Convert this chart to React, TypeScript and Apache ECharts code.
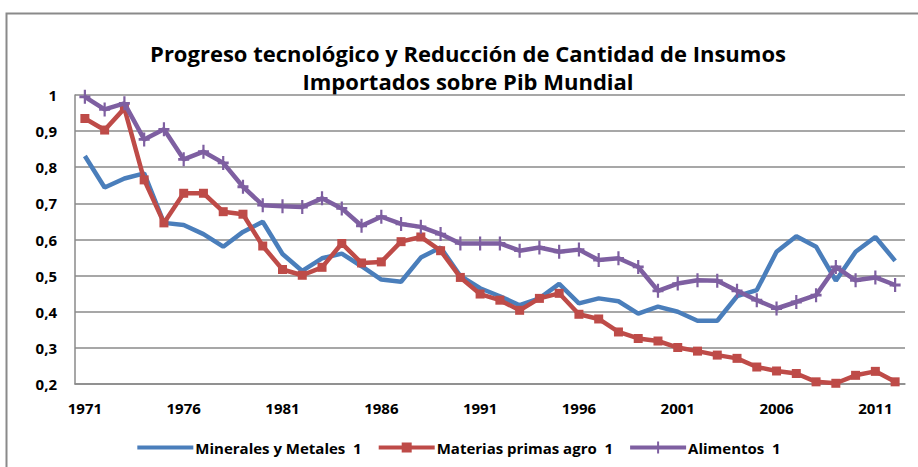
import React, { useEffect, useRef } from "react";
import * as echarts from "echarts";

const years = [
  "1971", "1972", "1973", "1974", "1975", "1976", "1977", "1978", "1979", "1980",
  "1981", "1982", "1983", "1984", "1985", "1986", "1987", "1988", "1989", "1990",
  "1991", "1992", "1993", "1994", "1995", "1996", "1997", "1998", "1999", "2000",
  "2001", "2002", "2003", "2004", "2005", "2006", "2007", "2008", "2009", "2010",
  "2011", "2012",
];

const minerales = [
  0.831, 0.744, 0.769, 0.783, 0.646, 0.64, 0.615, 0.58, 0.621, 0.649,
  0.56, 0.513, 0.548, 0.561, 0.526, 0.489, 0.483, 0.55, 0.578, 0.499,
  0.465, 0.443, 0.418, 0.437, 0.477, 0.423, 0.437, 0.429, 0.395, 0.414,
  0.4, 0.375, 0.375, 0.443, 0.46, 0.566, 0.609, 0.58, 0.486, 0.566,
  0.607, 0.541,
];

const materias = [
  0.935, 0.903, 0.963, 0.765, 0.646, 0.728, 0.728, 0.677, 0.67, 0.582,
  0.517, 0.501, 0.523, 0.589, 0.535, 0.538, 0.594, 0.607, 0.569, 0.495,
  0.449, 0.432, 0.404, 0.437, 0.451, 0.393, 0.38, 0.344, 0.326, 0.319,
  0.301, 0.291, 0.28, 0.271, 0.247, 0.236, 0.229, 0.206, 0.202, 0.224,
  0.235, 0.206,
];

const alimentos = [
  0.995, 0.96, 0.977, 0.877, 0.905, 0.822, 0.843, 0.812, 0.746, 0.695,
  0.692, 0.69, 0.714, 0.686, 0.638, 0.663, 0.643, 0.635, 0.615, 0.589,
  0.589, 0.589, 0.569, 0.578, 0.566, 0.572, 0.543, 0.548, 0.524, 0.458,
  0.478, 0.487, 0.486, 0.458, 0.432, 0.409, 0.427, 0.446, 0.524, 0.487,
  0.495, 0.474,
];

const seriesNames = ["Minerales y Metales  1", "Materias primas agro  1", "Alimentos  1"];
const colors = ["#4A7EBB", "#BE4B48", "#7E5FA1"];
const titleLines = ["Progreso tecnológico y Reducción de Cantidad de Insumos", "Importados sobre Pib Mundial"];

const FONT = "Open Sans";
const PLUS = "path://M4,0 H6 V4 H10 V6 H6 V10 H4 V6 H0 V4 H4 Z";
const ICON_LINE = "path://M0,4 H56 V8 H0 Z";
const ICON_RECT = "path://M0,4 H23 V1 H33 V4 H56 V8 H33 V11 H23 V8 H0 Z";
const ICON_PLUS = "path://M0,4 H27 V0 H29 V4 H56 V8 H29 V12 H27 V8 H0 Z";

export default function App() {
  const ref = useRef<HTMLDivElement>(null);

  useEffect(() => {
    if (!ref.current) return;
    const chart = echarts.init(ref.current, null, { renderer: "svg" });
    chart.setOption({
      animation: false,
      backgroundColor: "#ffffff",
      graphic: [
        {
          type: "rect",
          shape: { x: 6.5, y: 13.5, width: 1000, height: 1000 },
          style: { fill: "none", stroke: "#8a8a8a", lineWidth: 2 },
          silent: true,
        },
        {
          type: "text",
          x: 468,
          y: 53,
          style: {
            text: titleLines[0],
            fontFamily: FONT,
            fontWeight: "bold",
            fontSize: 22,
            fill: "#000",
            align: "center",
            verticalAlign: "middle",
          },
        },
        {
          type: "text",
          x: 468,
          y: 81,
          style: {
            text: titleLines[1],
            fontFamily: FONT,
            fontWeight: "bold",
            fontSize: 22,
            fill: "#000",
            align: "center",
            verticalAlign: "middle",
          },
        },
      ],
      grid: { left: 75, right: 13, top: 95, bottom: 83, containLabel: false },
      xAxis: {
        type: "category",
        data: years,
        boundaryGap: true,
        axisLine: { lineStyle: { color: "#8a8a8a", width: 1.5 } },
        axisTick: { show: false },
        axisLabel: {
          interval: 4,
          margin: 16,
          fontFamily: FONT,
          fontWeight: "bold",
          fontSize: 15,
          color: "#000",
        },
      },
      yAxis: {
        type: "value",
        min: 0.2,
        max: 1,
        interval: 0.1,
        axisLine: { show: true, lineStyle: { color: "#8a8a8a", width: 1.5 } },
        axisTick: { show: false },
        splitLine: { lineStyle: { color: "#8a8a8a", width: 1.5 } },
        axisLabel: {
          margin: 18,
          fontFamily: FONT,
          fontWeight: "bold",
          fontSize: 15,
          color: "#000",
          formatter: (v: number) => {
            const r = Math.round(v * 10) / 10;
            return r === 1 ? "1" : r.toFixed(1).replace(".", ",");
          },
        },
      },
      legend: {
        bottom: 7,
        left: "center",
        itemWidth: 56,
        itemHeight: 12,
        itemGap: 17,
        textStyle: {
          fontFamily: FONT,
          fontWeight: "bold",
          fontSize: 15,
          color: "#000",
          padding: [0, 0, 0, -3],
        },
        data: [
          { name: seriesNames[0], icon: ICON_LINE },
          { name: seriesNames[1], icon: ICON_RECT },
          { name: seriesNames[2], icon: ICON_PLUS },
        ],
      },
      series: [
        {
          name: seriesNames[0],
          type: "line",
          data: minerales,
          symbol: "none",
          lineStyle: { width: 4.5, color: colors[0] },
          itemStyle: { color: colors[0] },
          z: 2,
        },
        {
          name: seriesNames[1],
          type: "line",
          data: materias,
          symbol: "rect",
          symbolSize: 9,
          showSymbol: true,
          showAllSymbol: true,
          lineStyle: { width: 4.5, color: colors[1] },
          itemStyle: { color: colors[1] },
          z: 3,
        },
        {
          name: seriesNames[2],
          type: "line",
          data: alimentos,
          symbol: PLUS,
          symbolSize: [11, 14],
          showSymbol: true,
          showAllSymbol: true,
          lineStyle: { width: 4.5, color: colors[2] },
          itemStyle: { color: colors[2] },
          z: 4,
        },
      ],
    });
    return () => chart.dispose();
  }, []);

  return <div ref={ref} style={{ width: 918, height: 467, position: "absolute", left: 0, top: 0 }} />;
}
